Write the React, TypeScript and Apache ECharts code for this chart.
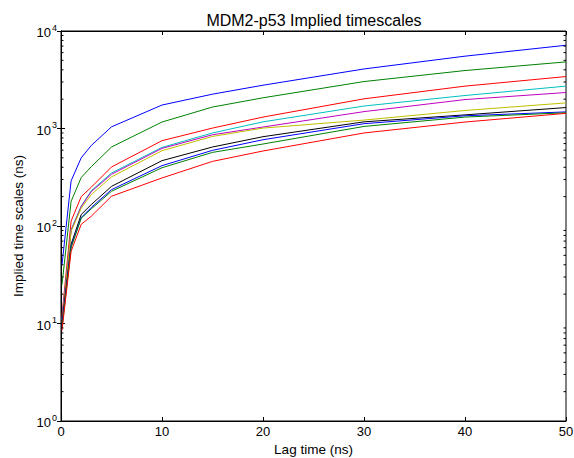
import React, { useEffect, useRef } from "react";
import * as echarts from "echarts";

// Lag times (ns)
const lagTimes = [0.1, 1, 2, 3, 5, 10, 15, 20, 30, 40, 50];

// Implied timescales (ns), one array per process
const its1 = [40, 290, 500, 670, 1040, 1740, 2250, 2780, 4080, 5520, 7140];
const its2 = [25, 179, 314, 406, 646, 1165, 1660, 2065, 3030, 3930, 4820];
const its3 = [12, 112, 200, 250, 403, 750, 1010, 1310, 2015, 2720, 3410];
const its4 = [11, 92, 160, 230, 350, 640, 900, 1170, 1700, 2180, 2720];
const its5 = [11, 90, 158, 225, 339, 625, 863, 1035, 1490, 1980, 2340];
const its6 = [10, 88, 152, 210, 319, 592, 829, 1010, 1220, 1530, 1830];
const its7 = [10, 65, 131, 166, 255, 468, 646, 824, 1170, 1380, 1640];
const its8 = [9.5, 62, 122, 155, 236, 416, 597, 767, 1120, 1350, 1480];
const its9 = [9, 60, 120, 150, 227, 396, 569, 693, 1050, 1310, 1450];
const its10 = [8.5, 55, 104, 126, 202, 311, 460, 588, 900, 1165, 1430];

const seriesValues = [its1, its2, its3, its4, its5, its6, its7, its8, its9, its10];
const seriesColors = [
  "#0000ff", "#008000", "#ff0000", "#00bfbf", "#bf00bf",
  "#bfbf00", "#000000", "#0000ff", "#008000", "#ff0000",
];

// x tick values and log minor tick positions
const xTicks = [0, 10, 20, 30, 40, 50];
const yMinorTicks = [
  2, 3, 4, 5, 6, 7, 8, 9,
  20, 30, 40, 50, 60, 70, 80, 90,
  200, 300, 400, 500, 600, 700, 800, 900,
  2000, 3000, 4000, 5000, 6000, 7000, 8000, 9000,
];

const FONT = "'Liberation Sans', Arial, sans-serif";

export default function App() {
  const ref = useRef<HTMLDivElement>(null);

  useEffect(() => {
    if (!ref.current) return;
    const chart = echarts.init(ref.current, null, { renderer: "svg" });

    const lineSeries = seriesValues.map((vals, i) => ({
      type: "line",
      data: lagTimes.map((x, j) => [x, vals[j]]),
      showSymbol: false,
      symbol: "none",
      lineStyle: { color: seriesColors[i], width: 1 },
      itemStyle: { color: seriesColors[i] },
      z: 3,
    }));

    const yLabel = {
      show: true,
      fontFamily: FONT,
      color: "#000",
      margin: 4,
      formatter: (v: number) => {
        const e = Math.round(Math.log10(v));
        return `{b|10}{s|${e}}`;
      },
      rich: {
        b: { fontSize: 13, fontFamily: FONT, color: "#000", lineHeight: 16, verticalAlign: "bottom" },
        s: { fontSize: 9, fontFamily: FONT, color: "#000", lineHeight: 10, verticalAlign: "top", padding: [0, 0, 0, 1] },
      },
    };

    chart.setOption({
      animation: false,
      textStyle: { fontFamily: FONT },
      graphic: [
        {
          type: "text",
          x: 314,
          y: 20,
          style: {
            text: "MDM2-p53 Implied timescales",
            fontSize: 16,
            fontFamily: FONT,
            fill: "#000",
            textAlign: "center",
            textVerticalAlign: "middle",
          },
        },
      ],
      grid: {
        left: 61,
        right: 8,
        top: 31,
        bottom: 37,
        outerBoundsMode: "none",
        containLabel: false,
        show: true,
        borderColor: "#000",
        borderWidth: 1,
        backgroundColor: "#fff",
      },
      xAxis: [
        {
          type: "value",
          min: 0,
          max: 50,
          interval: 10,
          position: "bottom",
          name: "Lag time (ns)",
          nameLocation: "middle",
          nameGap: 19,
          nameTextStyle: { fontSize: 13.5, fontFamily: FONT, color: "#000" },
          axisLine: { show: true, lineStyle: { color: "#000", width: 1 } },
          axisTick: { show: true, inside: true, length: 4, lineStyle: { color: "#000" } },
          axisLabel: { fontSize: 13, fontFamily: FONT, color: "#000", margin: 4 },
          splitLine: { show: false },
        },
        {
          type: "value",
          min: 0,
          max: 50,
          interval: 10,
          position: "top",
          axisLine: { show: true, lineStyle: { color: "#000", width: 1 } },
          axisTick: { show: true, inside: true, length: 4, lineStyle: { color: "#000" } },
          axisLabel: { show: false },
          splitLine: { show: false },
        },
      ],
      yAxis: [
        {
          type: "log",
          logBase: 10,
          min: 1,
          max: 10000,
          splitNumber: 4,
          position: "left",
          name: "Implied time scales (ns)",
          nameLocation: "middle",
          nameGap: 36,
          nameRotate: 90,
          nameTextStyle: { fontSize: 13.5, fontFamily: FONT, color: "#000" },
          axisLine: { show: true, lineStyle: { color: "#000", width: 1 } },
          axisTick: { show: true, inside: true, length: 4, lineStyle: { color: "#000" } },
          axisLabel: yLabel,
          splitLine: { show: false },
        },
        {
          type: "log",
          logBase: 10,
          min: 1,
          max: 10000,
          splitNumber: 4,
          position: "right",
          axisLine: { show: true, lineStyle: { color: "#000", width: 1 } },
          axisTick: { show: true, inside: true, length: 4, lineStyle: { color: "#000" } },
          axisLabel: { show: false },
          splitLine: { show: false },
        },
      ],
      series: [
        ...lineSeries,
        {
          type: "custom",
          xAxisIndex: 0,
          yAxisIndex: 0,
          data: yMinorTicks.map((v) => [0, v]),
          encode: { x: 0, y: 1 },
          silent: true,
          clip: false,
          z: 5,
          renderItem: (_params: any, api: any) => {
            const v = api.value(1);
            const pl = api.coord([xTicks[0], v]);
            const pr = api.coord([xTicks[xTicks.length - 1], v]);
            return {
              type: "group",
              children: [
                { type: "line", shape: { x1: pl[0], y1: pl[1], x2: pl[0] + 2.5, y2: pl[1] }, style: { stroke: "#000", lineWidth: 1 } },
                { type: "line", shape: { x1: pr[0], y1: pr[1], x2: pr[0] - 2.5, y2: pr[1] }, style: { stroke: "#000", lineWidth: 1 } },
              ],
            };
          },
        },
      ],
    });

    return () => chart.dispose();
  }, []);

  return (
    <div
      ref={ref}
      style={{ position: "fixed", left: 0, top: 0, width: 574, height: 458, background: "#fff" }}
    />
  );
}
